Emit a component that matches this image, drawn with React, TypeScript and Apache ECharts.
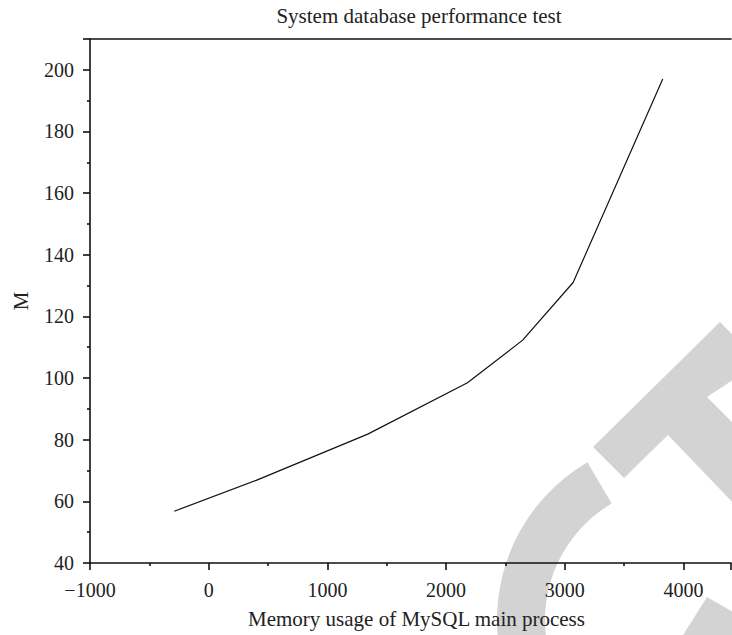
import React, { useEffect, useRef } from "react";
import * as echarts from "echarts";

const memoryUsage = [-290, 400, 1340, 2180, 2645, 3070, 3825];
const mValues = [56.8, 66.8, 81.8, 98.5, 112.3, 131, 197];
const titleText = "System database performance test";
const xName = "Memory usage of MySQL main process";
const yName = "M";

const FONT = "'Liberation Serif', 'Times New Roman', serif";
const GRAY = "#d3d3d3";

export default function App() {
  const ref = useRef<HTMLDivElement>(null);
  useEffect(() => {
    if (!ref.current) return;
    const chart = echarts.init(ref.current, undefined, { renderer: "svg" });
    const data = memoryUsage.map((x, i) => [x, mValues[i]]);
    chart.setOption({
      animation: false,
      backgroundColor: "#ffffff",
      title: {
        text: titleText,
        left: 414,
        top: 0,
        textAlign: "center",
        textStyle: { fontFamily: FONT, fontSize: 21, fontWeight: "normal", color: "#222" },
      },
      grid: { left: 90, right: 1, top: 39, bottom: 72 },
      xAxis: [
        {
          type: "value",
          position: "bottom",
          min: -1000,
          max: 4400,
          interval: 1000,
          name: xName,
          nameLocation: "middle",
          nameGap: 45,
          nameTextStyle: { fontFamily: FONT, fontSize: 21, color: "#222", padding: [0, 0, 0, 12] },
          splitLine: { show: false },
          axisLine: { show: true, onZero: false, lineStyle: { color: "#111", width: 1.6 } },
          axisTick: { show: true, inside: false, length: 7, lineStyle: { color: "#111", width: 1.6 } },
          minorTick: { show: true, splitNumber: 2, length: 3, lineStyle: { color: "#111", width: 1.6 } },
          axisLabel: {
            fontFamily: FONT,
            fontSize: 20,
            color: "#222",
            margin: 17,
            showMaxLabel: false,
            formatter: (v: number) => (v < 0 ? "\u2212" + Math.abs(v) : String(v)),
          },
        },
        {
          type: "value",
          position: "top",
          min: -1000,
          max: 4400,
          axisLine: { show: true, onZero: false, lineStyle: { color: "#111", width: 1.6 } },
          axisTick: { show: false },
          axisLabel: { show: false },
          splitLine: { show: false },
        },
      ],
      yAxis: {
        type: "value",
        min: 40,
        max: 210,
        interval: 20,
        name: yName,
        nameLocation: "middle",
        nameGap: 59,
        nameRotate: 90,
        nameTextStyle: { fontFamily: FONT, fontSize: 21, color: "#222" },
        splitLine: { show: false },
        axisLine: { show: true, onZero: false, lineStyle: { color: "#111", width: 1.6 } },
        axisTick: { show: true, inside: false, length: 7, lineStyle: { color: "#111", width: 1.6 } },
        minorTick: { show: true, splitNumber: 2, length: 3, lineStyle: { color: "#111", width: 1.6 } },
        axisLabel: {
          fontFamily: FONT,
          fontSize: 20,
          color: "#222",
          margin: 16,
          showMaxLabel: false,
        },
      },
      graphic: {
        elements: [
          {
            type: "sector",
            z: -10,
            silent: true,
            shape: {
              cx: 680,
              cy: 620,
              r: 183,
              r0: 135,
              startAngle: (100 * Math.PI) / 180,
              endAngle: (239.6 * Math.PI) / 180,
              clockwise: true,
            },
            style: { fill: GRAY },
          },
          {
            type: "polygon",
            z: -10,
            silent: true,
            shape: {
              points: [
                [593, 447],
                [720, 322],
                [760, 362],
                [707, 397],
                [780, 470],
                [740, 510],
                [668, 435],
                [624, 478],
              ],
            },
            style: { fill: GRAY },
          },
          {
            type: "polygon",
            z: -10,
            silent: true,
            shape: {
              points: [
                [707, 597],
                [740, 616],
                [740, 640],
                [680, 640],
              ],
            },
            style: { fill: GRAY },
          },
        ],
      },
      series: [
        {
          type: "line",
          data,
          xAxisIndex: 0,
          showSymbol: false,
          symbol: "none",
          lineStyle: { color: "#111", width: 1.2 },
          z: 5,
        },
      ],
    });
    return () => chart.dispose();
  }, []);
  return (
    <div
      ref={ref}
      style={{ position: "absolute", left: 0, top: 0, width: 732, height: 635, background: "#fff" }}
    />
  );
}
